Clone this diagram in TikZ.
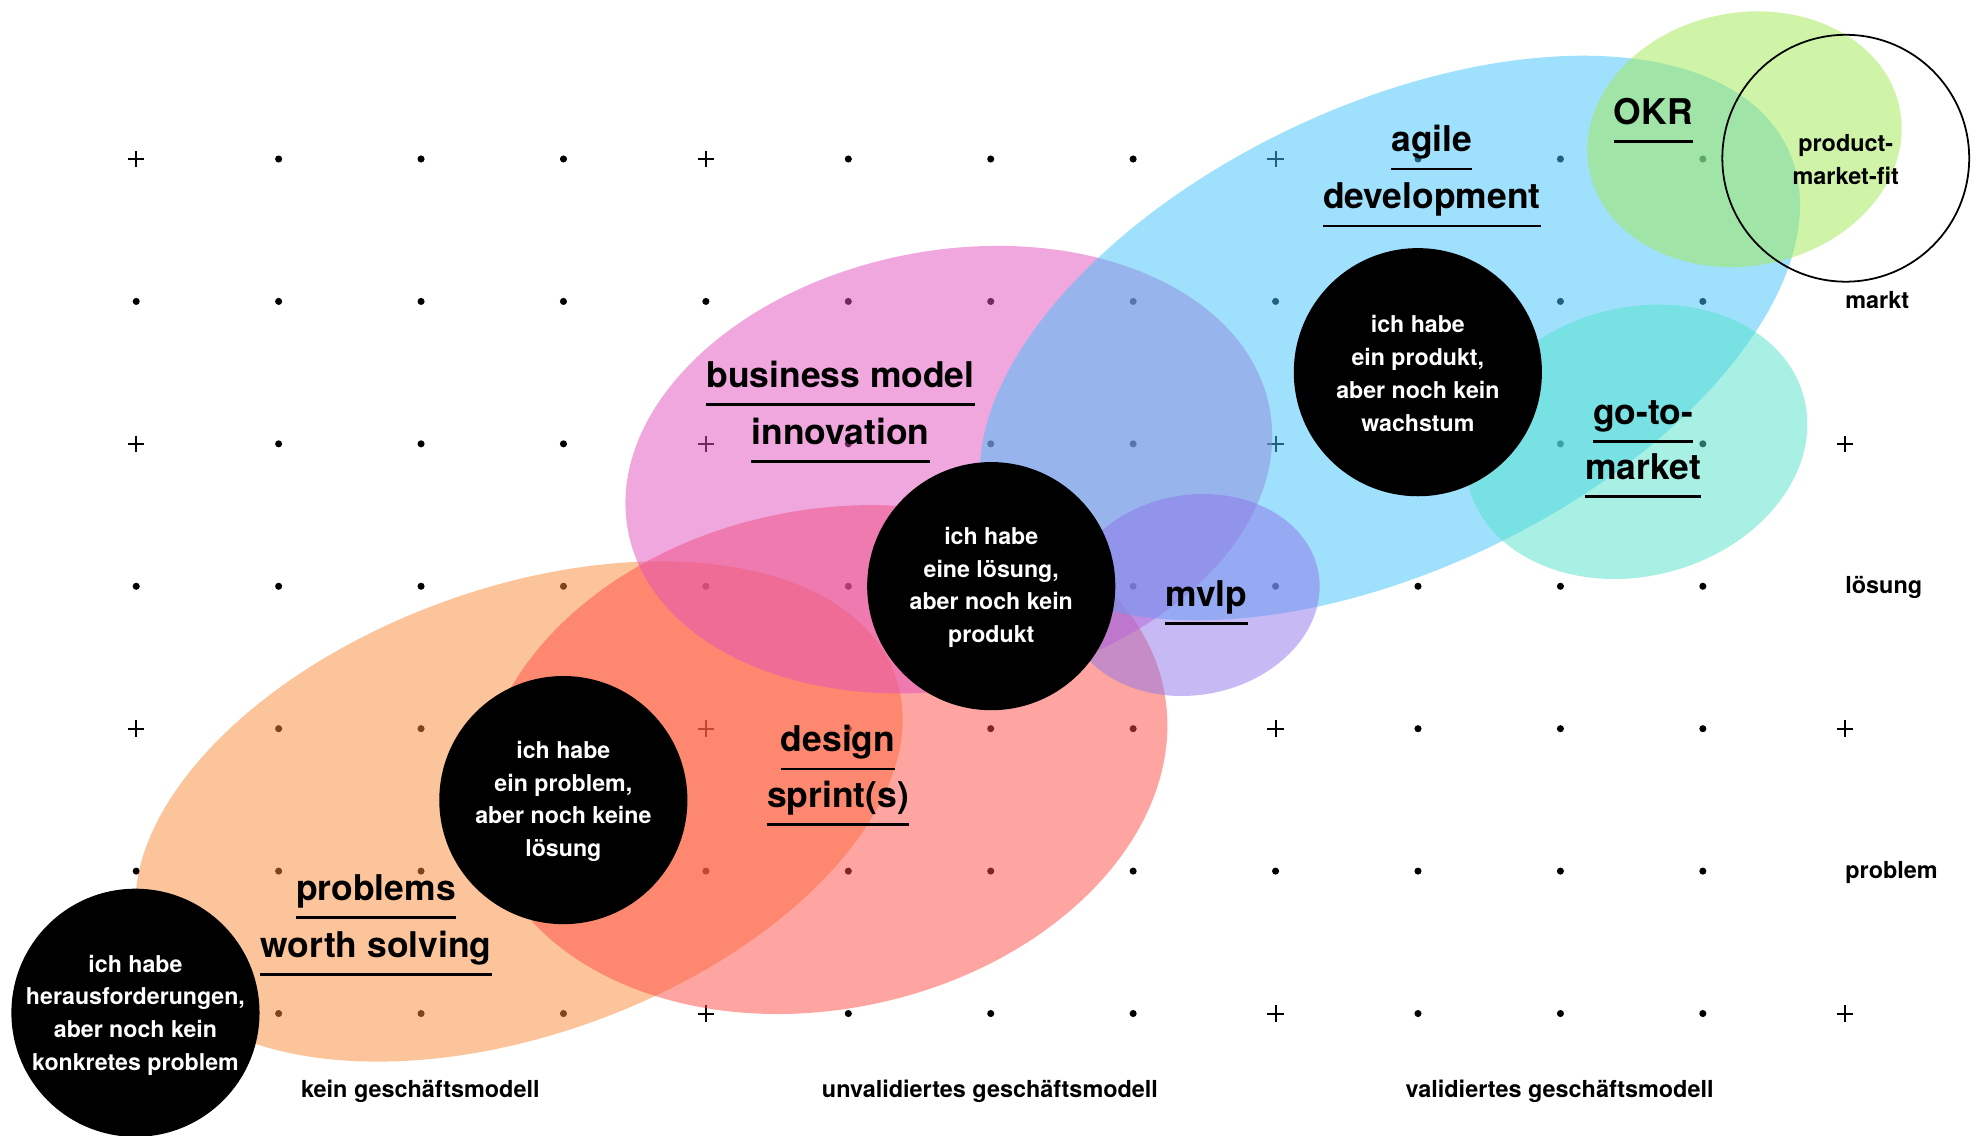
\documentclass[tikz,border=0pt]{standalone}
\usepackage{fontspec}
\setmainfont{TeX Gyre Heros}
\usetikzlibrary{shapes.geometric}
\definecolor{cOrange}{RGB}{251,139,55}
\definecolor{cSalmon}{RGB}{255,77,69}
\definecolor{cPink}{RGB}{225,81,189}
\definecolor{cBlue}{RGB}{65,195,251}
\definecolor{cPurple}{RGB}{143,117,235}
\definecolor{cTeal}{RGB}{83,227,203}
\definecolor{cGreen}{RGB}{161,235,83}
\begin{document}
\begin{tikzpicture}[x=1pt,y=-1pt,
  venn/.style={ellipse, draw=none, inner sep=0pt, outer sep=0pt, fill opacity=0.5},
  bcirc/.style={circle, fill=black, draw=none, inner sep=0pt, minimum size=196pt},
  ctext/.style={text=white, align=center, font=\bfseries\fontsize{18.3}{26}\selectfont, inner sep=0pt},
  biglbl/.style={font=\bfseries\fontsize{28}{34}\selectfont, inner sep=0pt, anchor=base},
  uline/.style={line width=2.2pt},
  axlbl/.style={font=\bfseries\fontsize{18.5}{22}\selectfont, inner sep=0pt},
  crossln/.style={line width=1.6pt}]
\fill[white] (0,0) rectangle (1568,896.6);
\useasboundingbox (0,0) rectangle (1568,896.6);
% grid
\foreach \i in {0,...,12}{
  \foreach \j in {0,...,6}{
    \pgfmathsetmacro\gx{107.6+112.5*\i}
    \pgfmathsetmacro\gy{125.6+112.5*\j}
    \pgfmathtruncatemacro\iscross{(mod(\i,4)==0)&&(mod(\j,2)==0)}
    \pgfmathtruncatemacro\noshow{(\i==12)&&((mod(\j,2)==1)||(\j==0))}
    \ifnum\noshow=0
      \ifnum\iscross=1
        \draw[crossln] (\gx-6.5,\gy) -- (\gx+6.5,\gy) (\gx,\gy-6.5) -- (\gx,\gy+6.5);
      \else
        \fill (\gx,\gy) circle[radius=2.8pt];
      \fi
    \fi
  }
}
% ellipses
\node[venn, fill=cOrange, minimum width=632pt, minimum height=352pt, rotate=20] (eOrange) at (410,641) {};
\node[venn, fill=cSalmon, minimum width=548pt, minimum height=394pt, rotate=12] (eSalmon) at (651,600) {};
\node[venn, fill=cPink, minimum width=516pt, minimum height=346pt, rotate=10.9] (ePink) at (749.5,371) {};
\node[venn, fill=cBlue, minimum width=696pt, minimum height=366pt, rotate=25.5] (eBlue) at (1098,267) {};
\node[venn, fill=cPurple, minimum width=202pt, minimum height=158pt, rotate=10] (ePurple) at (942,470) {};
\node[venn, fill=cTeal, minimum width=274pt, minimum height=212pt, rotate=15] (eTeal) at (1292.5,349) {};
\node[venn, fill=cGreen, minimum width=250pt, minimum height=200pt, rotate=11] (eGreen) at (1378,110) {};
% product-market-fit
\node[circle, draw=black, line width=1.4pt, inner sep=0pt, minimum size=195pt] (pmf) at (1458,125) {};
\node[axlbl, align=center, font=\bfseries\fontsize{18.5}{26}\selectfont] (pmft) at (1458,126) {product-\\market-fit};
% black circles
\node[bcirc] (c1) at (107,800) {};
\node[bcirc] (c2) at (445,632) {};
\node[bcirc] (c3) at (783,463) {};
\node[bcirc] (c4) at (1120,294) {};
\node[ctext] (t1) at ([yshift=-2pt]c1.center) {ich habe\\herausforderungen,\\aber noch kein\\konkretes problem};
\node[ctext] (t2) at ([yshift=-1pt]c2.center) {ich habe\\ein problem,\\aber noch keine\\lösung};
\node[ctext] (t3) at ([yshift=-1pt]c3.center) {ich habe\\eine lösung,\\aber noch kein\\produkt};
\node[ctext] (t4) at ([yshift=-1pt]c4.center) {ich habe\\ein produkt,\\aber noch kein\\wachstum};
% big labels
\node[biglbl] (pw1) at (297,711) {problems};
\node[biglbl] (pw2) at (297,756) {worth solving};
\node[biglbl] (ds1) at (662,594) {design};
\node[biglbl] (ds2) at (662,638) {sprint(s)};
\node[biglbl] (bm1) at (664,306) {business model};
\node[biglbl] (bm2) at (664,351) {innovation};
\node[biglbl] (mv) at (953,479) {mvlp};
\node[biglbl] (ag1) at (1131,120) {agile};
\node[biglbl] (ag2) at (1131,165) {development};
\node[biglbl] (okr) at (1306,98) {OKR};
\node[biglbl] (gt1) at (1298,335) {go-to-};
\node[biglbl] (gt2) at (1298,379) {market};
\foreach \n in {pw1,pw2,ds1,ds2,bm1,bm2,mv,ag1,ag2,okr,gt1,gt2}{
  \draw[uline] ([yshift=-13.5pt]\n.base west) -- ([yshift=-13.5pt]\n.base east);
}
% axis labels
\node[axlbl, anchor=base west] (lmarkt) at (1457.5,244) {markt};
\node[axlbl, anchor=base west] (lloes) at (1457.5,469) {lösung};
\node[axlbl, anchor=base west] (lprob) at (1457.5,694) {problem};
\node[axlbl, anchor=base] (bkein) at (332,867) {kein geschäftsmodell};
\node[axlbl, anchor=base] (bunval) at (782,867) {unvalidiertes geschäftsmodell};
\node[axlbl, anchor=base] (bval) at (1232,867) {validiertes geschäftsmodell};
\end{tikzpicture}
\end{document}
